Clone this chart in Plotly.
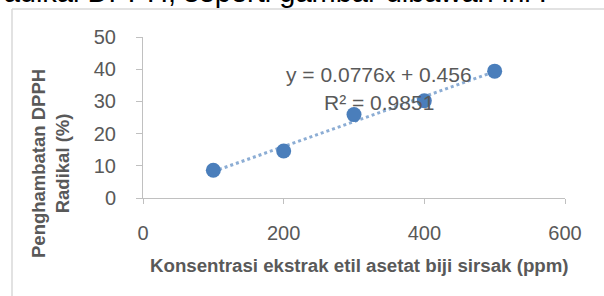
import plotly.graph_objects as go

# Data
konsentrasi = [100, 200, 300, 400, 500]
penghambatan = [8.6, 14.6, 25.9, 30.2, 39.4]
slope = 0.0776
intercept = 0.456
r2 = 0.9851
x_ticks = [0, 200, 400, 600]
y_ticks = [0, 10, 20, 30, 40, 50]

trend_x = [konsentrasi[0], konsentrasi[-1]]
trend_y = [slope * v + intercept for v in trend_x]

W, H = 604, 296
L, R, T, B = 143, 39, 37, 98
pw, ph = W - L - R, H - T - B

def px(xp):
    return (xp - L) / pw

def py(yp):
    return (H - B - yp) / ph

grey = "#595959"
axis_col = "#c0c0c0"

fig = go.Figure()
fig.add_trace(go.Scatter(
    x=trend_x, y=trend_y, mode="lines",
    line=dict(color="rgba(79,129,189,0.65)", width=3, dash="dot"),
    hoverinfo="skip", showlegend=False))
fig.add_trace(go.Scatter(
    x=konsentrasi, y=penghambatan, mode="markers",
    marker=dict(color="#4a7ebb", size=15),
    showlegend=False, cliponaxis=False))

fig.update_layout(
    width=W, height=H,
    margin=dict(l=L, r=R, t=T, b=B),
    paper_bgcolor="white", plot_bgcolor="white",
    showlegend=False,
    font=dict(family="Liberation Sans, Arial, sans-serif", color=grey),
    xaxis=dict(range=[0, 600], tickvals=x_ticks, showgrid=False, zeroline=False,
               showline=True, linecolor=axis_col, linewidth=1,
               ticks="outside", ticklen=5, tickcolor=axis_col,
               tickfont=dict(size=20, color=grey), ticklabelstandoff=12),
    yaxis=dict(range=[0, 50], tickvals=y_ticks, showgrid=False, zeroline=False,
               showline=True, linecolor=axis_col, linewidth=1,
               ticks="outside", ticklen=6, tickcolor=axis_col,
               tickfont=dict(size=20, color=grey), ticklabelstandoff=16),
)

# chart border (partially visible)
fig.add_shape(type="line", xref="paper", yref="paper",
              x0=px(12), x1=px(12), y0=py(9), y1=py(320),
              line=dict(color="#d9d9d9", width=1.5))
fig.add_shape(type="line", xref="paper", yref="paper",
              x0=px(12), x1=px(620), y0=py(9), y1=py(9),
              line=dict(color="#d9d9d9", width=1.5))

# Top cut-off document text
fig.add_annotation(text="radikal DPPH, seperti gambar dibawah ini :",
                   xref="paper", yref="paper", x=px(-8), y=py(-8),
                   xanchor="left", yanchor="middle", showarrow=False,
                   font=dict(size=29, color="black", family="Liberation Sans, Arial"))

# Equation
fig.add_annotation(text="y = 0.0776x + 0.456", xref="paper", yref="paper",
                   x=px(379), y=py(74), xanchor="center", yanchor="middle",
                   showarrow=False, font=dict(size=21, color=grey))
fig.add_annotation(text="R² = %.4f" % r2, xref="paper", yref="paper",
                   x=px(379), y=py(102), xanchor="center", yanchor="middle",
                   showarrow=False, font=dict(size=21, color=grey))

# Axis titles
fig.add_annotation(text="<b>Konsentrasi ekstrak etil asetat biji sirsak (ppm)</b>",
                   xref="paper", yref="paper", x=px(359), y=py(265),
                   xanchor="center", yanchor="middle", showarrow=False,
                   font=dict(size=18.7, color=grey))
fig.add_annotation(text="<b>Penghambatan DPPH<br>Radikal (%)</b>",
                   xref="paper", yref="paper", x=px(50), y=py(164),
                   xanchor="center", yanchor="middle", showarrow=False,
                   textangle=-90, font=dict(size=18.5, color=grey))

fig.write_html("out.html", config={"displayModeBar": False},
               post_script="document.body.style.margin='0';document.body.style.overflow='hidden';")
